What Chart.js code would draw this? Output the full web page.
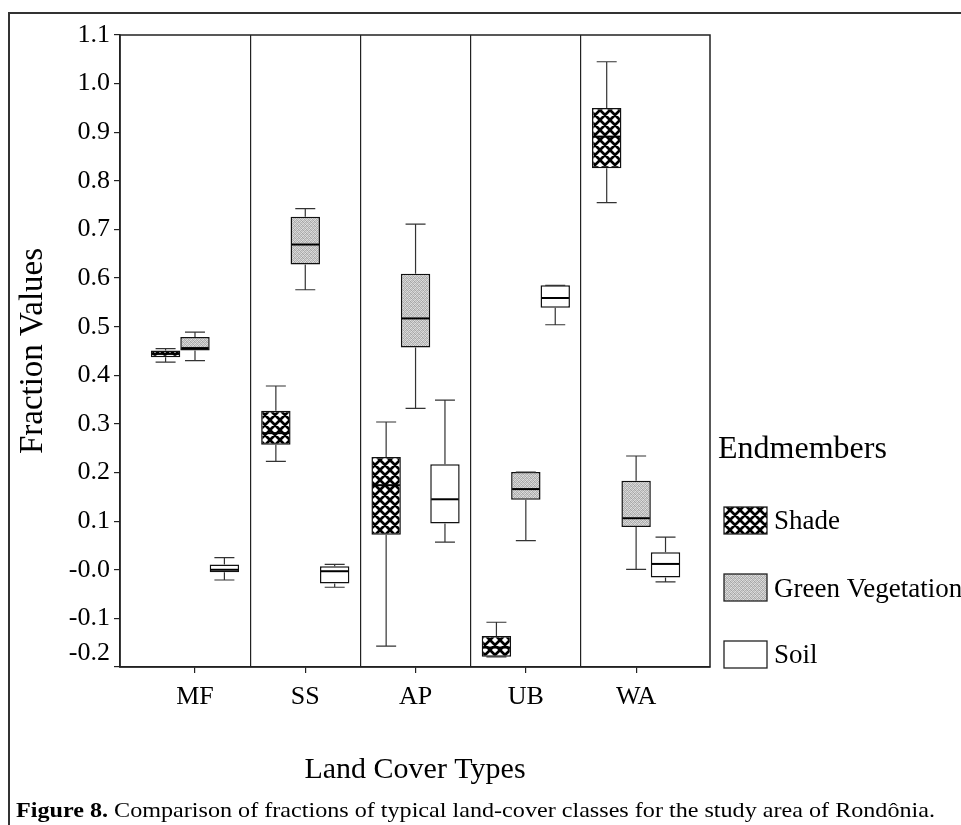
<!DOCTYPE html>
<html><head><meta charset="utf-8">
<script src="https://cdn.jsdelivr.net/npm/chart.js@4.4.1/dist/chart.umd.min.js"></script>
<style>html,body{margin:0;padding:0;background:#fff;}#wrap{width:961px;height:825px;position:relative;}</style>
</head><body><div id="wrap"><canvas id="c"></canvas></div>
<script>
const categories = ['MF', 'SS', 'AP', 'UB', 'WA'];
const seriesNames = ['Shade', 'Green Vegetation', 'Soil'];

const shadeMin = [0.427, 0.223, -0.157, -0.179, 0.755];
const shadeQ1  = [0.437, 0.257,  0.072, -0.179, 0.826];
const shadeMed = [0.444, 0.281,  0.174, -0.160, 0.891];
const shadeQ3  = [0.451, 0.327,  0.232, -0.136, 0.950];
const shadeMax = [0.455, 0.378,  0.304, -0.108, 1.045];

const greenMin = [0.430, 0.576, 0.332, 0.060, 0.001];
const greenQ1  = [0.451, 0.628, 0.457, 0.144, 0.088];
const greenMed = [0.456, 0.669, 0.517, 0.166, 0.106];
const greenQ3  = [0.479, 0.726, 0.609, 0.201, 0.183];
const greenMax = [0.489, 0.743, 0.711, 0.201, 0.234];

const soilMin = [-0.021, -0.036, 0.057, 0.504, -0.025];
const soilQ1  = [-0.005, -0.028, 0.095, 0.539, -0.016];
const soilMed = [ 0.000, -0.003, 0.145, 0.559,  0.012];
const soilQ3  = [ 0.011,  0.007, 0.217, 0.585,  0.036];
const soilMax = [ 0.025,  0.011, 0.349, 0.585,  0.067];

const yTickValues = [-0.2, -0.1, 0, 0.1, 0.2, 0.3, 0.4, 0.5, 0.6, 0.7, 0.8, 0.9, 1.0, 1.1];
const yTickLabels = ['-0.2', '-0.1', '-0.0', '0.1', '0.2', '0.3', '0.4', '0.5', '0.6', '0.7', '0.8', '0.9', '1.0', '1.1'];
const dividerValues = [0.5, 1.5, 2.5, 3.5];

const FONT = '"Liberation Serif", "Times New Roman", serif';
Chart.defaults.font.family = FONT;
Chart.defaults.color = '#000';

const canvas = document.getElementById('c');
const ctx = canvas.getContext('2d');

function hatchPattern() {
  const t = document.createElement('canvas'); t.width = 10; t.height = 10;
  const g = t.getContext('2d');
  g.fillStyle = '#fff'; g.fillRect(0, 0, 10, 10);
  g.strokeStyle = '#000'; g.lineWidth = 2.7;
  g.beginPath();
  [-10, 0, 10].forEach(k => { g.moveTo(-5, -5 + k); g.lineTo(15, 15 + k); });
  [0, 10, 20].forEach(k => { g.moveTo(-5, 5 + k); g.lineTo(15, -15 + k); });
  g.stroke();
  return ctx.createPattern(t, 'repeat');
}
function stipplePattern() {
  const t = document.createElement('canvas'); t.width = 4; t.height = 4;
  const g = t.getContext('2d');
  const tones = [205, 170, 220, 185, 183, 226, 163, 210, 215, 177, 201, 167, 173, 211, 189, 224];
  const img = g.createImageData(4, 4);
  tones.forEach((v, i) => { img.data[i*4] = v; img.data[i*4+1] = v; img.data[i*4+2] = v; img.data[i*4+3] = 255; });
  g.putImageData(img, 0, 0);
  return ctx.createPattern(t, 'repeat');
}

function makeDataset(label, q1, q3, min, med, max, fill) {
  return {
    label: label,
    xAxisID: 'x', yAxisID: 'y',
    data: categories.map((c, i) => ({ x: i, y: [q1[i], q3[i]] })),
    stats: { min: min, q1: q1, med: med, q3: q3, max: max },
    backgroundColor: fill,
    borderColor: '#111',
    borderWidth: 1.5,
    borderSkipped: false,
    categoryPercentage: 0.8,
    barPercentage: 1.0
  };
}

const datasets = [
  makeDataset(seriesNames[0], shadeQ1, shadeQ3, shadeMin, shadeMed, shadeMax, hatchPattern()),
  makeDataset(seriesNames[1], greenQ1, greenQ3, greenMin, greenMed, greenMax, stipplePattern()),
  makeDataset(seriesNames[2], soilQ1, soilQ3, soilMin, soilMed, soilMax, '#ffffff')
];

const boxPlugin = {
  id: 'boxWhiskers',
  afterDatasetsDraw(chart) {
    const ys = chart.scales.y; const c = chart.ctx;
    chart.data.datasets.forEach((ds, d) => {
      const meta = chart.getDatasetMeta(d);
      meta.data.forEach((bar, i) => {
        const x = bar.x, w = bar.width;
        const yMin = ys.getPixelForValue(ds.stats.min[i]);
        const yMax = ys.getPixelForValue(ds.stats.max[i]);
        const yQ1 = ys.getPixelForValue(ds.stats.q1[i]);
        const yQ3 = ys.getPixelForValue(ds.stats.q3[i]);
        const yMed = ys.getPixelForValue(ds.stats.med[i]);
        const cap = w * 0.68;
        c.save();
        c.strokeStyle = '#333'; c.lineWidth = 1.2;
        c.beginPath();
        c.moveTo(x, yQ3); c.lineTo(x, yMax);
        c.moveTo(x - cap / 2, yMax); c.lineTo(x + cap / 2, yMax);
        c.moveTo(x, yQ1); c.lineTo(x, yMin);
        c.moveTo(x - cap / 2, yMin); c.lineTo(x + cap / 2, yMin);
        c.stroke();
        c.strokeStyle = '#000'; c.lineWidth = 2;
        c.beginPath(); c.moveTo(x - w / 2 + 1, yMed); c.lineTo(x + w / 2 - 1, yMed); c.stroke();
        c.restore();
      });
    });
  }
};

const framePlugin = {
  id: 'frameDecor',
  beforeDraw(chart) {
    const c = chart.ctx;
    c.save(); c.fillStyle = '#fff'; c.fillRect(0, 0, chart.width, chart.height); c.restore();
  },
  afterDraw(chart) {
    const c = chart.ctx; const a = chart.chartArea;
    c.save();
    c.strokeStyle = '#333'; c.lineWidth = 2;
    c.beginPath(); c.moveTo(9, 825); c.lineTo(9, 13); c.lineTo(961, 13); c.stroke();
    c.strokeStyle = '#222'; c.lineWidth = 1.5;
    c.strokeRect(a.left, a.top, a.right - a.left, a.bottom - a.top);
    c.fillStyle = '#000'; c.textBaseline = 'alphabetic'; c.textAlign = 'left';
    c.font = '32px ' + FONT;
    c.fillText('Endmembers', 718, 458);
    const boxTops = [507, 574, 641];
    const baselines = [529, 597, 663];
    chart.data.datasets.forEach((ds, d) => {
      c.fillStyle = ds.backgroundColor;
      c.fillRect(724, boxTops[d], 43, 27);
      c.strokeStyle = '#222'; c.lineWidth = 1.3;
      c.strokeRect(724, boxTops[d], 43, 27);
      c.fillStyle = '#000';
      c.font = '27px ' + FONT;
      c.fillText(ds.label, 774, baselines[d]);
    });
    const bold = 'Figure 8.';
    const rest = ' Comparison of fractions of typical land-cover classes for the study area of Rondônia.';
    c.font = 'bold 21px ' + FONT; const w1 = c.measureText(bold).width;
    c.font = '21px ' + FONT; const w2 = c.measureText(rest).width;
    const sx = 919 / (w1 + w2);
    c.translate(16, 817); c.scale(sx, 1);
    c.fillStyle = '#000';
    c.font = 'bold 21px ' + FONT; c.fillText(bold, 0, 0);
    c.font = '21px ' + FONT; c.fillText(rest, w1, 0);
    c.restore();
  }
};

new Chart(ctx, {
  type: 'bar',
  data: { datasets: datasets },
  plugins: [boxPlugin, framePlugin],
  options: {
    responsive: true, maintainAspectRatio: false, animation: false,
    layout: { padding: { left: 0, top: 35, right: 251, bottom: 37 } },
    plugins: { legend: { display: false }, tooltip: { enabled: false } },
    scales: {
      x: {
        type: 'linear', position: 'bottom', min: -0.68, max: 4.67, bounds: 'data', offset: false,
        afterBuildTicks: s => { s.ticks = categories.map((c, i) => ({ value: i })); },
        afterFit: s => { s.height = 121; },
        ticks: { callback: (v, i) => categories[i], padding: 9, font: { size: 26 }, color: '#000', maxRotation: 0, autoSkip: false },
        grid: { offset: false, drawOnChartArea: false, drawTicks: true, tickLength: 6, color: '#222', lineWidth: 1.2 },
        border: { display: true, color: '#222', width: 1.5 },
        title: { display: true, text: 'Land Cover Types', font: { size: 30 }, color: '#000', padding: 0 }
      },
      xd: {
        type: 'linear', position: 'top', min: -0.68, max: 4.67, bounds: 'data', offset: false,
        afterBuildTicks: s => { s.ticks = dividerValues.map(v => ({ value: v })); },
        afterFit: s => { s.height = 0; },
        ticks: { display: false },
        grid: { offset: false, drawOnChartArea: true, drawTicks: false, color: '#222', lineWidth: 1.2 },
        border: { display: false }
      },
      y: {
        type: 'linear', position: 'left', min: -0.2, max: 1.1, bounds: 'data',
        afterBuildTicks: s => { s.ticks = yTickValues.map(v => ({ value: v })); },
        afterFit: s => { s.width = 120; },
        ticks: { callback: (v, i) => i === 0 ? [yTickLabels[i], ''] : yTickLabels[i], padding: 4, font: { size: 26, lineHeight: 1.1 }, color: '#000', autoSkip: false },
        grid: { drawOnChartArea: false, tickLength: 6, color: '#222', lineWidth: 1.2 },
        border: { display: true, color: '#222', width: 1.5 },
        title: { display: true, text: 'Fraction Values', font: { size: 33 }, color: '#000', padding: { top: 14, bottom: 0 } }
      }
    }
  }
});
</script>
</body></html>
